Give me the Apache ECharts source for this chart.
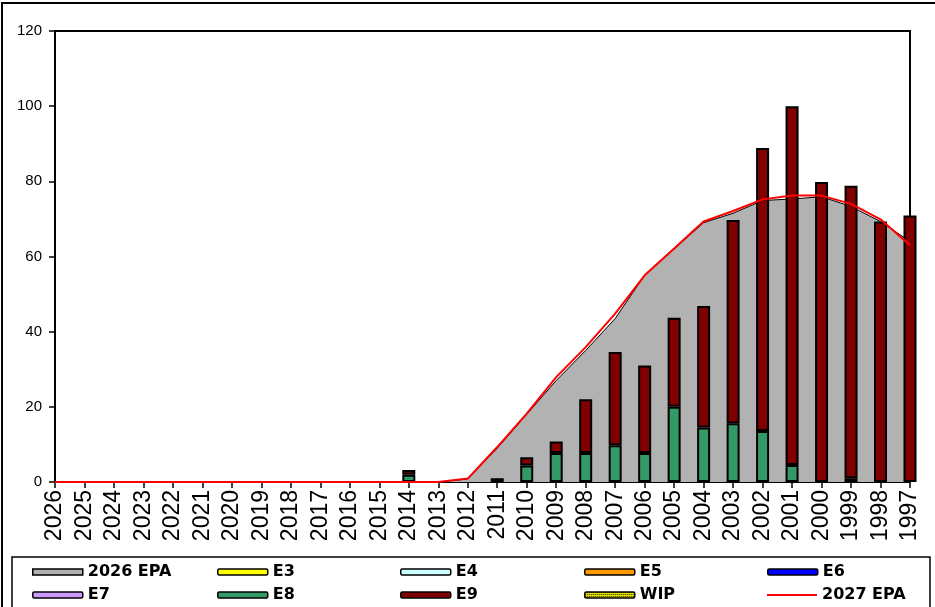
<!DOCTYPE html>
<html>
<head>
<meta charset="utf-8">
<script src="https://cdn.jsdelivr.net/npm/echarts@6/dist/echarts.min.js"></script>
<style>
html,body{margin:0;padding:0;background:#fff;}
#chart{width:935px;height:607px;}
</style>
</head>
<body>
<div id="chart"></div>
<script>
const categories = ['2026','2025','2024','2023','2022','2021','2020','2019','2018','2017','2016','2015','2014','2013','2012','2011','2010','2009','2008','2007','2006','2005','2004','2003','2002','2001','2000','1999','1998','1997'];
const epa2026 = [0,0,0,0,0,0,0,0,0,0,0,0,0,0,0.8,9,18,27,35,43.5,55,62,69,71.5,74.9,75.3,75.9,73.3,69.3,64];
const epa2027 = [0,0,0,0,0,0,0,0,0,0,0,0,0,0,0.9,9.3,18.2,27.9,35.9,44.8,55,62.1,69.3,72.1,75.2,76.2,76.2,74,69.9,63];
const e3 = [0,0,0,0,0,0,0,0,0,0,0,0,0,0,0,0,0,0,0,0,0,0,0,0,0,0,0,0,0,0];
const e4 = [0,0,0,0,0,0,0,0,0,0,0,0,0,0,0,0,0,0,0,0,0,0,0,0,0,0,0,0,0,0];
const e5 = [0,0,0,0,0,0,0,0,0,0,0,0,0,0,0,0,0,0,0,0,0,0,0,0,0,0,0,0,0,0];
const e6 = [0,0,0,0,0,0,0,0,0,0,0,0,0,0,0,0,0,0,0,0,0,0,0,0,0,0,0,0,0,0];
const e7 = [0,0,0,0,0,0,0,0,0,0,0,0,0,0,0,0,0,0,0,0,0,0,0,0,0,0,0,0,0,0];
const e8 = [0,0,0,0,0,0,0,0,0,0,0,0,1.9,0,0,1,4.4,7.7,7.7,9.8,7.7,20,14.5,15.6,13.6,4.5,0,1,0,0];
const e9 = [0,0,0,0,0,0,0,0,0,0,0,0,1.3,0,0,0,2.2,3.1,14.3,24.8,23.3,23.7,32.3,54.1,75.3,95.5,79.8,77.8,69.3,70.9];
const wip = [0,0,0,0,0,0,0,0,0,0,0,0,0,0,0,0,0,0,0,0,0,0,0,0,0,0,0,0,0,0];
const yTicks = {min: 0, max: 120, interval: 20};

// WIP hatch pattern
const pc = document.createElement('canvas');
pc.width = 2; pc.height = 2;
const pctx = pc.getContext('2d');
pctx.fillStyle = '#e0e000'; pctx.fillRect(0,0,2,2);
pctx.fillStyle = '#303000'; pctx.fillRect(0,0,1,1);

const nz = arr => arr.map(v => (v === 0 ? null : v));

function bar(name, data, color) {
  return {
    name: name, type: 'bar', stack: 'total', barWidth: 13, clip: false, z: 3,
    data: nz(data),
    itemStyle: {color: color, borderColor: '#000', borderWidth: 2}
  };
}

const legendText = {fontFamily: 'DejaVu Sans', fontWeight: 'bold', fontSize: 16, color: '#000', lineHeight: 16};
const colsX = [32, 217, 400, 584, 767];
const rowsY = [564, 587];
const legendItems = [
  {name: '2026 EPA', icon: 'rect', itemStyle: {color: '#b2b2b2', borderColor: '#000', borderWidth: 1.5}},
  {name: 'E3'}, {name: 'E4'}, {name: 'E5'}, {name: 'E6'},
  {name: 'E7'}, {name: 'E8'}, {name: 'E9'}, {name: 'WIP'},
  {name: '2027 EPA', icon: 'rect', itemStyle: {color: '#ff0000', borderWidth: 0}}
];
const legends = legendItems.map((it, i) => ({
  data: [it],
  left: colsX[i % 5],
  top: rowsY[Math.floor(i / 5)],
  padding: 0,
  itemWidth: 50,
  itemHeight: i === 9 ? 2 : 6,
  itemGap: 0,
  selectedMode: false,
  itemStyle: i === 9 ? undefined : {borderWidth: 1.5},
  textStyle: legendText
}));

const chart = echarts.init(document.getElementById('chart'), null, {renderer: 'canvas'});
chart.setOption({
  animation: false,
  backgroundColor: '#fff',
  graphic: [
    {type: 'rect', shape: {x: 2, y: 3, width: 980, height: 700}, style: {fill: 'none', stroke: '#000', lineWidth: 2}, z: 0},
    {type: 'rect', shape: {x: 12, y: 557, width: 918, height: 70}, style: {fill: 'none', stroke: '#000', lineWidth: 1.5}, z: 0}
  ],
  legend: legends,
  grid: {left: 55, right: 25, top: 31, bottom: 125, show: true, borderColor: '#000', borderWidth: 2, backgroundColor: 'transparent'},
  xAxis: {
    type: 'category', data: categories, boundaryGap: false,
    axisLine: {lineStyle: {color: '#000', width: 2}},
    axisTick: {show: true, length: 6, lineStyle: {color: '#000', width: 1.5}, interval: 0},
    axisLabel: {rotate: 90, interval: 0, fontSize: 23, fontFamily: 'Liberation Sans', color: '#000', margin: 8},
    splitLine: {show: false}
  },
  yAxis: {
    type: 'value', min: yTicks.min, max: yTicks.max, interval: yTicks.interval,
    axisLine: {show: true, lineStyle: {color: '#000', width: 2}},
    axisTick: {show: true, length: 6, lineStyle: {color: '#000', width: 1.5}},
    axisLabel: {fontSize: 15, fontFamily: 'Liberation Sans', color: '#000', margin: 13},
    splitLine: {show: false}
  },
  series: [
    {name: '2026 EPA', type: 'line', data: epa2026, symbol: 'none', showSymbol: false, z: 1,
     lineStyle: {color: '#000', width: 1}, itemStyle: {color: '#b2b2b2'},
     areaStyle: {color: '#b2b2b2', opacity: 1}},
    bar('E3', e3, '#ffff00'),
    bar('E4', e4, '#ccffff'),
    bar('E5', e5, '#ff9900'),
    bar('E6', e6, '#0000ff'),
    bar('E7', e7, '#cc99ff'),
    bar('E8', e8, '#339966'),
    bar('E9', e9, '#800000'),
    bar('WIP', wip, {image: pc, repeat: 'repeat'}),
    {name: '2027 EPA', type: 'line', data: epa2027, symbol: 'none', showSymbol: false, z: 5,
     lineStyle: {color: '#ff0000', width: 2}, itemStyle: {color: '#ff0000'}}
  ]
});
</script>
</body>
</html>
